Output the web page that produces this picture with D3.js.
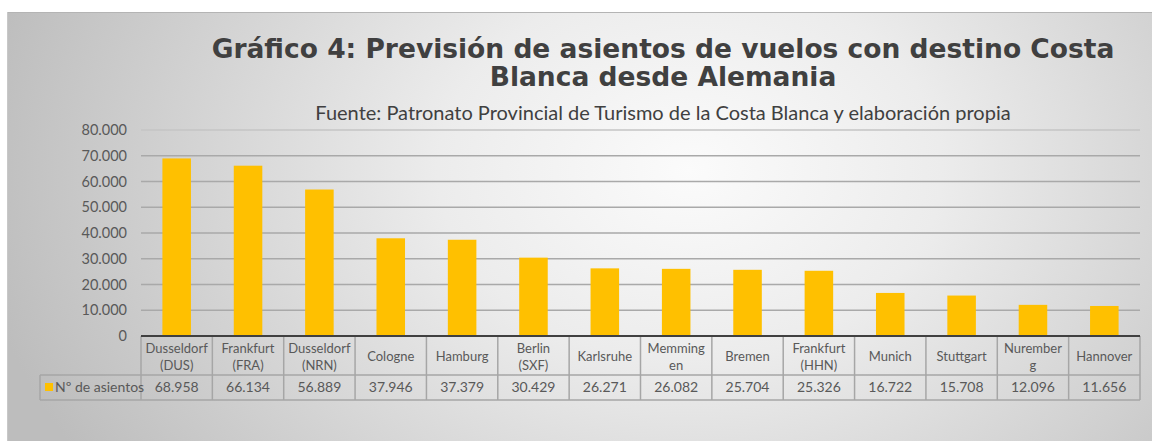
<!DOCTYPE html>
<html>
<head>
<meta charset="utf-8">
<script src="https://cdn.jsdelivr.net/npm/d3@7"></script>
<style>
  body { margin: 0; background: #fff; }
  svg { display: block; }
</style>
</head>
<body>
<div id="chart"></div>
<script>
// data
const categories = [
  'Dusseldorf\n(DUS)', 'Frankfurt\n(FRA)', 'Dusseldorf\n(NRN)', 'Cologne', 'Hamburg',
  'Berlin\n(SXF)', 'Karlsruhe', 'Memming\nen', 'Bremen', 'Frankfurt\n(HHN)',
  'Munich', 'Stuttgart', 'Nurember\ng', 'Hannover'
];
const seats = [68958, 66134, 56889, 37946, 37379, 30429, 26271, 26082, 25704, 25326, 16722, 15708, 12096, 11656];
const yTicks = [0, 10000, 20000, 30000, 40000, 50000, 60000, 70000, 80000];
const seriesName = 'Nº de asientos';
const titleLines = ['Gráfico 4: Previsión de asientos de vuelos con destino Costa', 'Blanca desde Alemania'];
const subtitle = 'Fuente: Patronato Provincial de Turismo de la Costa Blanca y elaboración propia';

(function () {
  const W = 1152, H = 441;
  const plot = { left: 141, right: 1140, top: 130, bottom: 336 };
  const table = { legendLeft: 40, rowSplit: 375, bottom: 400 };
  const barColor = '#ffc000';
  const textColor = '#595959';
  const bodyFont = 'Lato, "Open Sans", sans-serif';

  const es = d3.formatLocale({ decimal: ',', thousands: '.', grouping: [3], currency: ['', '€'] });
  const fmt = es.format(',.0f');

  const svg = d3.select('#chart').append('svg')
    .attr('width', W)
    .attr('height', H);

  const defs = svg.append('defs');
  const grad = defs.append('radialGradient')
    .attr('id', 'bg')
    .attr('gradientUnits', 'userSpaceOnUse')
    .attr('cx', 690).attr('cy', 170).attr('r', 720)
    .attr('gradientTransform', 'translate(690,170) scale(1,0.75) translate(-690,-170)');
  grad.append('stop').attr('offset', '0%').attr('stop-color', '#fbfbfb');
  grad.append('stop').attr('offset', '35%').attr('stop-color', '#ececec');
  grad.append('stop').attr('offset', '100%').attr('stop-color', '#bdbdbd');

  svg.append('rect')
    .attr('x', 7).attr('y', 12)
    .attr('width', W - 7).attr('height', H - 12)
    .attr('fill', 'url(#bg)');
  svg.append('line')
    .attr('x1', 7).attr('x2', W).attr('y1', 12.5).attr('y2', 12.5)
    .attr('stroke', '#b4b4b4').attr('stroke-width', 1);
  svg.append('line')
    .attr('x1', 7.5).attr('x2', 7.5).attr('y1', 12).attr('y2', H)
    .attr('stroke', '#c8c8c8').attr('stroke-width', 1);

  // titles
  svg.append('g').selectAll('text')
    .data(titleLines)
    .join('text')
    .attr('x', 663)
    .attr('y', (d, i) => 58 + i * 28)
    .attr('text-anchor', 'middle')
    .attr('fill', '#404040')
    .attr('font-family', '"DejaVu Sans", Verdana, sans-serif')
    .attr('font-weight', 'bold')
    .attr('font-size', '26.5px')
    .text(d => d);

  svg.append('text')
    .attr('x', 663)
    .attr('y', 120)
    .attr('text-anchor', 'middle')
    .attr('fill', '#404040')
    .attr('font-family', bodyFont)
    .attr('font-size', '20px')
    .text(subtitle);

  const x = d3.scaleBand()
    .domain(categories)
    .range([plot.left, plot.right])
    .padding(0);
  const y = d3.scaleLinear()
    .domain([0, 80000])
    .range([plot.bottom, plot.top]);

  // gridlines
  svg.append('g').selectAll('line')
    .data(yTicks.filter(d => d > 0))
    .join('line')
    .attr('x1', plot.left)
    .attr('x2', plot.right)
    .attr('y1', d => y(d))
    .attr('y2', d => y(d))
    .attr('stroke', d => d === 80000 ? '#c4c4c4' : '#a9a9a9')
    .attr('stroke-width', 1.6);

  // y labels
  svg.append('g').selectAll('text')
    .data(yTicks)
    .join('text')
    .attr('x', 127)
    .attr('y', d => y(d))
    .attr('dy', '0.35em')
    .attr('text-anchor', 'end')
    .attr('fill', textColor)
    .attr('font-family', bodyFont)
    .attr('font-size', '14.5px')
    .text(d => fmt(d));

  // bars
  const barW = x.bandwidth() / 2.5;
  svg.append('g').selectAll('rect')
    .data(seats)
    .join('rect')
    .attr('x', (d, i) => x(categories[i]) + (x.bandwidth() - barW) / 2)
    .attr('y', d => y(d))
    .attr('width', barW)
    .attr('height', d => y(0) - y(d))
    .attr('fill', barColor);

  // data table
  const grid = svg.append('g')
    .attr('stroke', '#a6a6a6')
    .attr('stroke-width', 1.5);
  const bounds = categories.map(c => x(c)).concat([plot.right]);
  grid.selectAll('.vline')
    .data(bounds)
    .join('line')
    .attr('x1', d => d).attr('x2', d => d)
    .attr('y1', plot.bottom).attr('y2', table.bottom);
  grid.append('line')
    .attr('x1', table.legendLeft).attr('x2', table.legendLeft)
    .attr('y1', table.rowSplit).attr('y2', table.bottom);
  grid.selectAll('.hline')
    .data([table.rowSplit, table.bottom])
    .join('line')
    .attr('x1', table.legendLeft).attr('x2', plot.right)
    .attr('y1', d => d).attr('y2', d => d);

  // axis line
  svg.append('line')
    .attr('x1', plot.left).attr('x2', plot.right)
    .attr('y1', plot.bottom).attr('y2', plot.bottom)
    .attr('stroke', '#404040')
    .attr('stroke-width', 2.2);

  const catMid = (plot.bottom + table.rowSplit) / 2 + 1;
  svg.append('g').selectAll('text')
    .data(categories)
    .join('text')
    .attr('x', d => x(d) + x.bandwidth() / 2)
    .attr('text-anchor', 'middle')
    .attr('fill', textColor)
    .attr('font-family', bodyFont)
    .attr('font-size', '13px')
    .each(function (d) {
      const lines = d.split('\n');
      const t = d3.select(this);
      lines.forEach((line, i) => {
        t.append('tspan')
          .attr('x', x(d) + x.bandwidth() / 2)
          .attr('y', catMid + (i - (lines.length - 1) / 2) * 17)
          .attr('dy', '0.35em')
          .text(line);
      });
    });

  const valMid = (table.rowSplit + table.bottom) / 2;
  svg.append('g').selectAll('text')
    .data(seats)
    .join('text')
    .attr('x', (d, i) => x(categories[i]) + x.bandwidth() / 2)
    .attr('y', valMid)
    .attr('dy', '0.35em')
    .attr('text-anchor', 'middle')
    .attr('fill', textColor)
    .attr('font-family', bodyFont)
    .attr('font-size', '14px')
    .text(d => fmt(d));

  // legend key in table
  svg.append('rect')
    .attr('x', 45).attr('y', 383)
    .attr('width', 8).attr('height', 8)
    .attr('fill', barColor);
  svg.append('text')
    .attr('x', 55)
    .attr('y', valMid)
    .attr('dy', '0.35em')
    .attr('fill', textColor)
    .attr('font-family', bodyFont)
    .attr('font-size', '14px')
    .text(seriesName);
})();
</script>
</body>
</html>
